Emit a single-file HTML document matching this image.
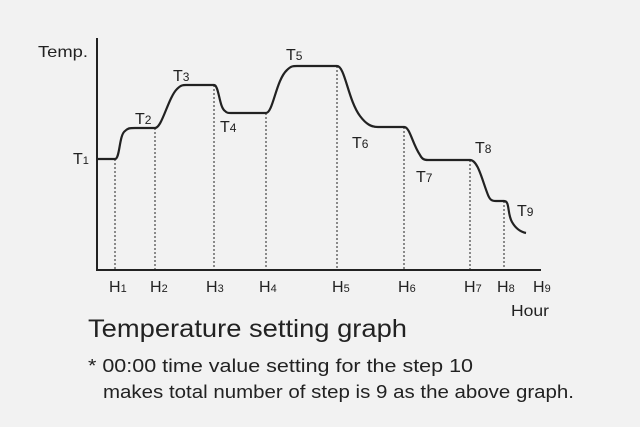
<!DOCTYPE html>
<html><head><style>
body{margin:0;background:#f2f2f2;}
svg{display:block;font-family:"Liberation Sans",sans-serif;}
</style></head><body>
<svg width="640" height="427" viewBox="0 0 640 427">
<rect width="640" height="427" fill="#f2f2f2"/>
<g stroke="#222" stroke-width="1" stroke-dasharray="2,2" fill="none">
<line x1="115" y1="159" x2="115" y2="270"/>
<line x1="155" y1="128" x2="155" y2="270"/>
<line x1="214" y1="85" x2="214" y2="270"/>
<line x1="266" y1="113" x2="266" y2="270"/>
<line x1="337" y1="66" x2="337" y2="270"/>
<line x1="404" y1="127" x2="404" y2="270"/>
<line x1="470" y1="160" x2="470" y2="270"/>
<line x1="504" y1="201" x2="504" y2="270"/>
</g>
<path d="M97 38 V270 H541" stroke="#222" stroke-width="2" fill="none"/>
<path d="M97 159 H115 C120 159 119 135 125 131 C128 128 130 128 135 128 H155 C162 128 168 98 177 89 C181 85 183 85 186 85 H214 C219 85 219 107 225 111 C227 113 228 113 231 113 H266 C273 113 276 80 287 70 C291 66 293 66 297 66 H337 C345 66 348 100 360 116 C366 124 371 127 378 127 H404 C410 127 412 143 420 155 C422 159 424 160 428 160 H470 C478 160 482 180 488 195 C490 200 492 201 496 201 H504 C510 201 507 213 512 222 C516 229 521 232 526 233" stroke="#222" stroke-width="2.2" fill="none"/>
<g fill="#222" font-size="16">
<text x="38" y="57" textLength="50" lengthAdjust="spacingAndGlyphs">Temp.</text>
<text x="73" y="164">T<tspan font-size="11">1</tspan></text>
<text x="135" y="124">T<tspan font-size="12">2</tspan></text>
<text x="173" y="81">T<tspan font-size="12">3</tspan></text>
<text x="220" y="132">T<tspan font-size="12">4</tspan></text>
<text x="286" y="60">T<tspan font-size="12">5</tspan></text>
<text x="352" y="148">T<tspan font-size="12">6</tspan></text>
<text x="416" y="182">T<tspan font-size="12">7</tspan></text>
<text x="475" y="153">T<tspan font-size="12">8</tspan></text>
<text x="517" y="216">T<tspan font-size="12">9</tspan></text>
<text x="109" y="292">H<tspan font-size="11">1</tspan></text>
<text x="150" y="292">H<tspan font-size="11">2</tspan></text>
<text x="206" y="292">H<tspan font-size="11">3</tspan></text>
<text x="259" y="292">H<tspan font-size="11">4</tspan></text>
<text x="332" y="292">H<tspan font-size="11">5</tspan></text>
<text x="398" y="292">H<tspan font-size="11">6</tspan></text>
<text x="464" y="292">H<tspan font-size="11">7</tspan></text>
<text x="497" y="292">H<tspan font-size="11">8</tspan></text>
<text x="533" y="292">H<tspan font-size="11">9</tspan></text>
<text x="511" y="316" textLength="38" lengthAdjust="spacingAndGlyphs">Hour</text>
</g>
<text x="88" y="337" font-size="25" fill="#222" textLength="319" lengthAdjust="spacingAndGlyphs">Temperature setting graph</text>
<text x="88" y="372" font-size="18.5" fill="#222" textLength="385" lengthAdjust="spacingAndGlyphs">* 00:00 time value setting for the step 10</text>
<text x="103" y="398" font-size="18.5" fill="#222" textLength="471" lengthAdjust="spacingAndGlyphs">makes total number of step is 9 as the above graph.</text>
</svg>
</body></html>
